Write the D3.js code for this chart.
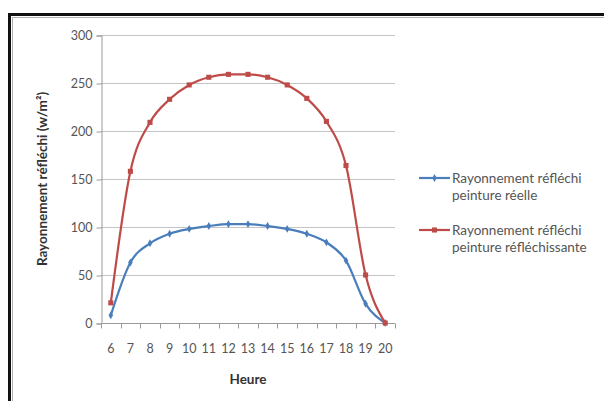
<!DOCTYPE html>
<html>
<head>
<meta charset="utf-8">
<script src="https://cdn.jsdelivr.net/npm/d3@7"></script>
<style>
  body { margin: 0; background: #fff; }
  svg { display: block; font-family: Lato, "Open Sans", sans-serif; }
</style>
</head>
<body>
<div id="chart"></div>
<script>
// chart data
const heures = [6, 7, 8, 9, 10, 11, 12, 13, 14, 15, 16, 17, 18, 19, 20];
const peintureReelle = [8, 63, 83, 93, 98, 101, 103, 103, 101, 98, 93, 84, 65, 20, 0];
const peintureRefl = [21, 158, 209, 233, 248, 256, 259, 259, 256, 248, 234, 210, 164, 50, 0];
const yTicks = [0, 50, 100, 150, 200, 250, 300];
const legendLabels = [["Rayonnement réfléchi", "peinture réelle"], ["Rayonnement réfléchi", "peinture réfléchissante"]];

const W = 604, H = 401;
const plot = {left: 101, right: 395, top: 35, bottom: 323};
const blue = "#4a7ebb", red = "#be4b48";

let svg = d3.select("#chart").append("svg")
    .attr("width", W)
    .attr("height", H);

svg.append("rect").attr("width", W).attr("height", H).attr("fill", "#fff");

// outer frame (runs off right and bottom)
svg.append("rect")
    .attr("x", 9.5).attr("y", 14.5)
    .attr("width", W + 10).attr("height", H + 10)
    .attr("fill", "none").attr("stroke", "#111").attr("stroke-width", 3);
svg.append("rect")
    .attr("x", 12.5).attr("y", 17.5)
    .attr("width", W + 10).attr("height", H + 10)
    .attr("fill", "none").attr("stroke", "#b0b0b0").attr("stroke-width", 1);

let x = d3.scaleBand()
    .domain(heures)
    .range([plot.left, plot.right]);

let y = d3.scaleLinear()
    .domain([0, 300])
    .range([plot.bottom, plot.top]);

// gridlines
svg.append("g").selectAll("line").data(yTicks.filter(d => d > 0))
    .enter().append("line")
    .attr("x1", plot.left).attr("x2", plot.right)
    .attr("y1", d => Math.round(y(d)) + 0.5).attr("y2", d => Math.round(y(d)) + 0.5)
    .attr("stroke", "#c4c4c4").attr("stroke-width", 1.2);

// y axis
let yAxis = svg.append("g")
    .attr("transform", `translate(${plot.left + 0.5},0.5)`)
    .call(d3.axisLeft(y).tickValues(yTicks).tickSize(5).tickPadding(4));
yAxis.selectAll("path, line").attr("stroke", "#9a9a9a");
yAxis.selectAll("text").attr("fill", "#555").style("font-size", "12.5px").style("font-family", "Lato, sans-serif");

// x axis with ticks at band boundaries
let xAxis = svg.append("g")
    .attr("transform", `translate(0,${plot.bottom + 0.5})`);
xAxis.append("line")
    .attr("x1", plot.left).attr("x2", plot.right)
    .attr("stroke", "#9a9a9a");
xAxis.selectAll("line.tk").data(heures.concat(["end"]))
    .enter().append("line").attr("class", "tk")
    .attr("x1", d => Math.round(d === "end" ? plot.right : x(d)) + 0.5)
    .attr("x2", d => Math.round(d === "end" ? plot.right : x(d)) + 0.5)
    .attr("y1", 0).attr("y2", 5)
    .attr("stroke", "#9a9a9a");
xAxis.selectAll("text").data(heures)
    .enter().append("text")
    .attr("x", d => x(d) + x.bandwidth() / 2)
    .attr("y", 29)
    .attr("text-anchor", "middle")
    .attr("fill", "#555")
    .style("font-size", "12.5px")
    .text(d => d);

// axis titles
svg.append("text")
    .attr("transform", `translate(47,${(plot.top + plot.bottom) / 2}) rotate(-90)`)
    .attr("text-anchor", "middle")
    .attr("fill", "#333")
    .style("font-size", "13.5px")
    .style("font-weight", "bold")
    .text("Rayonnement réfléchi (w/m²)");

svg.append("text")
    .attr("x", (plot.left + plot.right) / 2)
    .attr("y", 384)
    .attr("text-anchor", "middle")
    .attr("fill", "#333")
    .style("font-size", "13.5px")
    .style("font-weight", "bold")
    .text("Heure");

// series
const line = d3.line()
    .x((d, i) => x(heures[i]) + x.bandwidth() / 2)
    .y(d => y(d))
    .curve(d3.curveMonotoneX);

function drawSeries(vals, color, shape) {
    svg.append("path")
        .datum(vals)
        .attr("d", line)
        .attr("fill", "none")
        .attr("stroke", color)
        .attr("stroke-width", 2.2);
    svg.append("g").selectAll("path").data(vals)
        .enter().append("path")
        .attr("transform", (d, i) => `translate(${x(heures[i]) + x.bandwidth() / 2},${y(d)})`)
        .attr("d", d3.symbol().type(shape).size(shape === d3.symbolSquare ? 26 : 18))
        .attr("fill", color);
}

drawSeries(peintureReelle, blue, d3.symbolDiamond);
drawSeries(peintureRefl, red, d3.symbolSquare);

// legend
const legendY = [178, 230];
const legendColors = [blue, red];
const legendShapes = [d3.symbolDiamond, d3.symbolSquare];
legendLabels.forEach(function(lines, i) {
    let g = svg.append("g").attr("transform", `translate(419,${legendY[i]})`);
    g.append("line").attr("x1", 0).attr("x2", 31)
        .attr("stroke", legendColors[i]).attr("stroke-width", 2.2);
    g.append("path").attr("transform", "translate(15.5,0)")
        .attr("d", d3.symbol().type(legendShapes[i]).size(legendShapes[i] === d3.symbolSquare ? 26 : 18))
        .attr("fill", legendColors[i]);
    lines.forEach(function(t, j) {
        g.append("text")
            .attr("x", 33)
            .attr("y", 5 + j * 17)
            .attr("fill", "#555")
            .style("font-size", "13.5px")
            .text(t);
    });
});
</script>
</body>
</html>
